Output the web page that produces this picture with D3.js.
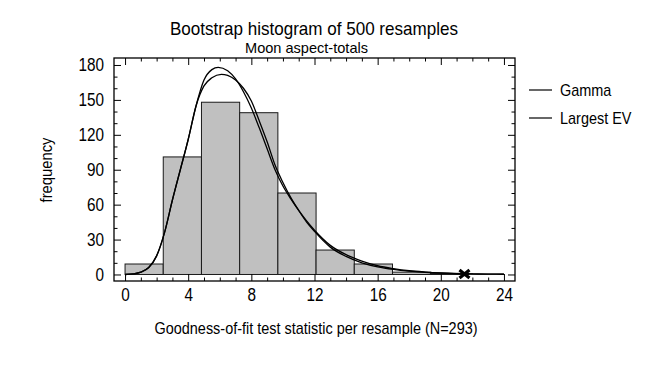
<!DOCTYPE html>
<html>
<head>
<meta charset="utf-8">
<script src="https://cdn.jsdelivr.net/npm/d3@7"></script>
<style>
  body { margin: 0; background: #fff; }
  svg { display: block; }
  text { font-family: "Liberation Sans", Arial, sans-serif; fill: #000; }
  .axis path, .axis line { stroke: #000; }
</style>
</head>
<body>
<div id="chart"></div>
<script>
'use strict';

// histogram bins (width = 2.42) and counts
const binWidth = 2.42;
const counts = [9, 101, 148, 139, 70, 21, 9, 2, 1, 0];

// fitted curves (x, frequency)
const gammaX = [0, 0.5, 1, 1.5, 2, 2.5, 3, 3.5, 4, 4.5, 5, 5.5, 5.9, 6.5, 7, 7.5, 8, 8.5, 9, 9.5, 10, 10.5, 11, 11.5, 12, 13, 14, 15, 16, 17, 18, 19, 20, 21, 22, 23, 24];
const gammaY = [0, 0.5, 2, 6, 16, 36, 64, 90, 116, 145, 167, 176, 178, 175, 168, 157, 143, 126, 108, 90, 76, 65, 55, 46, 38, 25, 17, 11.5, 7.5, 5, 3.2, 2.1, 1.3, 0.8, 0.5, 0.3, 0.2];
const evX = [0, 0.5, 1, 1.5, 2, 2.5, 3, 3.5, 4, 4.5, 5, 5.5, 6.1, 6.5, 7, 7.5, 8, 8.5, 9, 9.5, 10, 10.5, 11, 11.5, 12, 13, 14, 15, 16, 17, 18, 19, 20, 21, 22, 23, 24];
const evY = [0, 0.5, 2, 6, 16, 36, 64, 90, 116, 145, 162, 169, 172, 171, 167, 160, 149, 132, 114, 94, 79, 66, 55, 45, 37, 23.5, 15.5, 10, 6.5, 4.3, 2.8, 1.8, 1.1, 0.7, 0.4, 0.3, 0.2];

const seriesNames = ['Gamma', 'Largest EV'];
const xTicks = [0, 4, 8, 12, 16, 20, 24];
const yTicks = [0, 30, 60, 90, 120, 150, 180];
const observed = 21.5;

const title = 'Bootstrap histogram of 500 resamples';
const subtitle = 'Moon aspect-totals';
const xTitle = 'Goodness-of-fit test statistic per resample (N=293)';
const yTitle = 'frequency';

const W = 648, H = 372;
const L = 114, R = 515, T = 58, B = 281;

const svg = d3.select('#chart').append('svg').attr('width', W).attr('height', H);

const x = d3.scaleLinear().domain([-0.7, 24.7]).range([L, R]);
const y = d3.scaleLinear().domain([-5.6, 186]).range([B, T]);

// squeeze text horizontally to mimic the narrow face of the original
const narrow = (sel, f) => sel.each(function () {
  const w = this.getComputedTextLength();
  d3.select(this).attr('textLength', w * f).attr('lengthAdjust', 'spacingAndGlyphs');
});

const bins = counts.map((c, i) => ({ x0: i * binWidth, x1: (i + 1) * binWidth, n: c }));

// bars
svg.append('g').selectAll('rect')
  .data(bins.filter((d) => d.n > 0))
  .enter()
  .append('rect')
  .attr('x', (d) => x(d.x0))
  .attr('y', (d) => y(d.n))
  .attr('width', (d) => x(d.x1) - x(d.x0))
  .attr('height', (d) => y(0) - y(d.n))
  .attr('fill', '#c0c0c0')
  .attr('stroke', '#1a1a1a')
  .attr('stroke-width', 1);

// curves
const line = d3.line()
  .x((d) => x(d[0]))
  .y((d) => y(d[1]))
  .curve(d3.curveMonotoneX);

const curves = [d3.zip(gammaX, gammaY), d3.zip(evX, evY)];
svg.append('g').selectAll('path')
  .data(curves)
  .enter()
  .append('path')
  .attr('d', line)
  .attr('fill', 'none')
  .attr('stroke', '#000')
  .attr('stroke-width', 1.3);

// observed value marker
const mx = x(observed), my = y(0);
svg.append('path')
  .attr('d', `M${mx - 5},${my - 4.5}L${mx + 5},${my + 3.5}M${mx + 5},${my - 4.5}L${mx - 5},${my + 3.5}`)
  .attr('stroke', '#000')
  .attr('stroke-width', 3.2);

// frame
svg.append('rect')
  .attr('x', L).attr('y', T)
  .attr('width', R - L).attr('height', B - T)
  .attr('fill', 'none')
  .attr('stroke', '#000')
  .attr('stroke-width', 1.3);

// axes: major + minor ticks, pointing inward
const xMinor = d3.range(0, 25, 1).filter((v) => v % 4 !== 0);
const yMinor = d3.range(0, 190, 10).filter((v) => v % 30 !== 0);

function ax(maker, scale, pos, major, minor, labels, pad) {
  const g = svg.append('g').attr('class', 'axis').attr('transform', pos);
  g.call(maker(scale).tickValues(minor).tickSize(-3.5).tickFormat(''))
    .call((s) => s.select('.domain').remove());
  const g2 = svg.append('g').attr('class', 'axis').attr('transform', pos);
  g2.call(maker(scale).tickValues(major).tickSize(-7).tickPadding(pad)
      .tickFormat(labels ? d3.format('d') : ''))
    .call((s) => s.select('.domain').remove());
  g2.selectAll('text').attr('font-size', 18).call(narrow, 0.85);
  return g2;
}

ax(d3.axisBottom, x, `translate(0,${B})`, xTicks, xMinor, true, 7);
ax(d3.axisTop, x, `translate(0,${T})`, xTicks, xMinor, false, 3);
ax(d3.axisLeft, y, `translate(${L},0)`, yTicks, yMinor, true, 10);
ax(d3.axisRight, y, `translate(${R},0)`, yTicks, yMinor, false, 3);

// titles
svg.append('text').attr('x', 314).attr('y', 35).attr('text-anchor', 'middle')
  .attr('font-size', 19).attr('textLength', 288).attr('lengthAdjust', 'spacingAndGlyphs').text(title);
svg.append('text').attr('x', 306.5).attr('y', 52.5).attr('text-anchor', 'middle')
  .attr('font-size', 15).attr('textLength', 123).attr('lengthAdjust', 'spacingAndGlyphs').text(subtitle);
svg.append('text').attr('x', 316).attr('y', 334).attr('text-anchor', 'middle')
  .attr('font-size', 17).attr('textLength', 323).attr('lengthAdjust', 'spacingAndGlyphs').text(xTitle);
svg.append('text').attr('transform', 'translate(52,170) rotate(-90)')
  .attr('text-anchor', 'middle').attr('font-size', 17).text(yTitle).call(narrow, 0.87);

// legend
const lg = svg.append('g').selectAll('g')
  .data(seriesNames)
  .enter()
  .append('g')
  .attr('transform', (d, i) => `translate(529,${90 + i * 28})`);
lg.append('line').attr('x1', 0).attr('x2', 23).attr('stroke', '#000').attr('stroke-width', 1.2);
lg.append('text').attr('x', 31).attr('dy', '0.35em').attr('font-size', 17).text((d) => d).call(narrow, 0.85);
</script>
</body>
</html>
